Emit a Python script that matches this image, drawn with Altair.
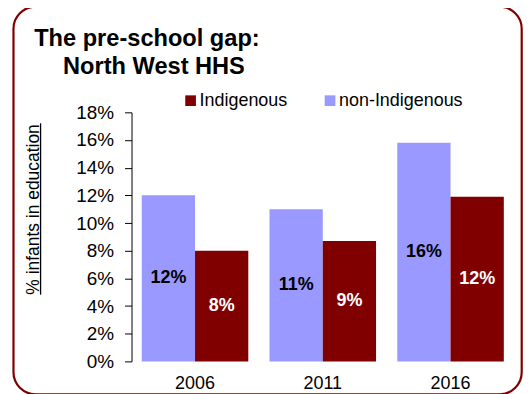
import altair as alt
import pandas as pd

# ---- data ----
years = ["2006", "2011", "2016"]
groups = ["Indigenous", "non-Indigenous"]
indigenous = [8.0, 8.7, 11.9]
non_indigenous = [12.0, 11.0, 15.8]
y_ticks = [0, 2, 4, 6, 8, 10, 12, 14, 16, 18]
title_lines = ["The pre-school gap:", "North West HHS"]
y_title = "% infants in education"
colors = ["#800000", "#9999FF"]

FONT = "Liberation Sans, Arial, Helvetica, sans-serif"

rows = []
for i, yr in enumerate(years):
    rows.append({"year": yr, "group": "non-Indigenous", "value": non_indigenous[i]})
    rows.append({"year": yr, "group": "Indigenous", "value": indigenous[i]})
df = pd.DataFrame(rows)

x_axis = alt.Axis(title=None, domain=False, ticks=False, tickSize=0, labelPadding=13,
                  labelFontSize=18, labelFont=FONT, labelAngle=0, labelColor="black")
x_scale = alt.Scale(paddingInner=0.166, paddingOuter=0.08)
xoff_enc = alt.XOffset("group:N", sort=["non-Indigenous", "Indigenous"])
y_scale = alt.Scale(domain=[0, 18], nice=False)
y_axis = alt.Axis(
    title=y_title, values=y_ticks, labelExpr="datum.value + '%'", grid=False,
    domainColor="black", domainWidth=1, tickColor="black", tickSize=7, tickWidth=1,
    labelPadding=11, labelFontSize=19, labelFont=FONT, labelColor="black",
    titleFont=FONT, titleFontSize=17.5, titleFontWeight="normal", titleColor="black",
    titleAngle=270, titleX=-93.5, titleY=97, titleAlign="center", titleBaseline="alphabetic",
)

bars = alt.Chart(df).mark_bar().encode(
    x=alt.X("year:N", sort=years, scale=x_scale, axis=x_axis),
    xOffset=xoff_enc,
    y=alt.Y("value:Q", scale=y_scale, axis=y_axis),
    color=alt.Color(
        "group:N",
        scale=alt.Scale(domain=groups, range=colors),
        legend=alt.Legend(
            title=None, orient="none", legendX=50.3, legendY=-20.7, direction="horizontal",
            symbolType="square", symbolSize=115, symbolStrokeWidth=0, symbolOpacity=1,
            labelFontSize=18, labelFont=FONT, labelColor="black", labelOffset=0,
            columnPadding=33, padding=0,
        ),
    ),
)

labels = alt.Chart(df).transform_calculate(
    mid="datum.value / 2",
    label="format(round(datum.value), 'd') + '%'",
).mark_text(font=FONT, fontSize=18, fontWeight="bold", baseline="middle", align="center").encode(
    x=alt.X("year:N", sort=years, scale=x_scale, axis=x_axis),
    xOffset=xoff_enc,
    y=alt.Y("mid:Q", scale=y_scale, axis=y_axis),
    text="label:N",
    color=alt.condition("datum.group === 'Indigenous'", alt.value("white"), alt.value("black")),
)

one = pd.DataFrame({"k": [0]})

border = alt.Chart(one).mark_rect(
    cornerRadius=22, fillOpacity=0, fill="white", stroke="#800000", strokeWidth=2.2
).encode(
    x=alt.value(-118.5), x2=alt.value(391.7), y=alt.value(-106), y2=alt.value(283)
)

underline = alt.Chart(one).mark_rule(color="black", strokeWidth=1.3).encode(
    x=alt.value(-91.3), y=alt.value(11), y2=alt.value(183)
)

t1 = alt.Chart(pd.DataFrame({"t": [title_lines[0]]})).mark_text(
    font=FONT, fontSize=23.7, fontWeight="bold", align="left", baseline="alphabetic", color="black"
).encode(x=alt.value(-97.7), y=alt.value(-67), text="t:N")

t2 = alt.Chart(pd.DataFrame({"t": [title_lines[1]]})).mark_text(
    font=FONT, fontSize=23.7, fontWeight="bold", align="left", baseline="alphabetic", color="black"
).encode(x=alt.value(-68.7), y=alt.value(-38.7), text="t:N")

chart = alt.layer(border, bars, labels, underline, t1, t2).properties(
    width=384,
    height=250,
    autosize=alt.AutoSizeParams(type="none"),
    padding={"left": 124, "top": 104, "right": 9, "bottom": 32},
    background="white",
).configure_view(strokeWidth=0)

chart.save("out.html", embed_options={"renderer": "svg", "actions": False})
